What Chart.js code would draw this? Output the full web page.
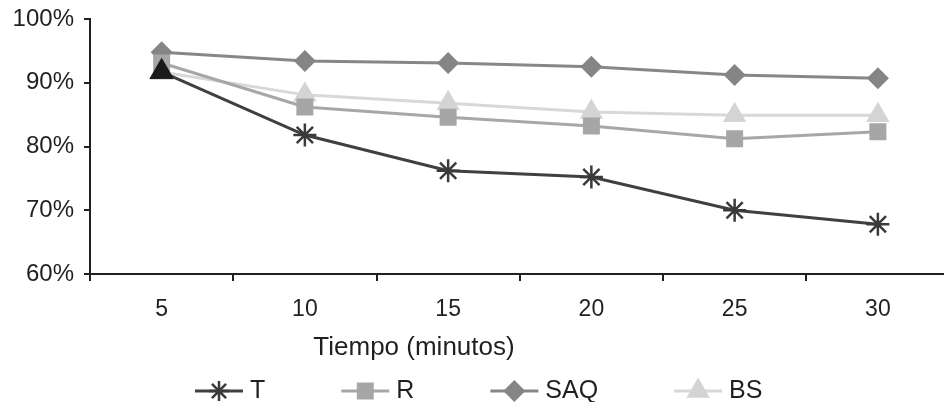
<!DOCTYPE html>
<html>
<head>
    <title>Tiempo</title>
    <script src="https://cdn.jsdelivr.net/npm/chart.js"></script>
    <style>
        html, body { margin: 0; padding: 0; background: #fff; overflow: hidden; }
        canvas { display: block; }
    </style>
</head>
<body>
    <canvas id="chart" width="964" height="402"></canvas>

    <script>
        // Data
        const categories = ['5', '10', '15', '20', '25', '30'];
        const seriesNames = ['T', 'R', 'SAQ', 'BS'];
        const valuesT = [91.7, 81.8, 76.2, 75.2, 70.0, 67.8];
        const valuesR = [93.1, 86.2, 84.6, 83.2, 81.2, 82.3];
        const valuesSAQ = [94.8, 93.4, 93.1, 92.5, 91.2, 90.7];
        const valuesBS = [91.7, 88.1, 86.8, 85.4, 84.9, 84.9];
        const yTicks = [60, 70, 80, 90, 100];
        const xTitle = 'Tiempo (minutos)';

        const ink = '#231f20';
        const font = '"Liberation Sans", Arial, Helvetica, sans-serif';

        // marker looks per series (used by chart and legend)
        const looks = [
            { line: '#404040', mark: '#3a3a3a', style: 'star', r: 11.5, bw: 2.5 },
            { line: '#a7a7a9', mark: '#a6a6a8', style: 'rect', r: 12, bw: 0 },
            { line: '#878787', mark: '#858585', style: 'rectRot', r: 11, bw: 0 },
            { line: '#d8d8d8', mark: '#d4d4d4', style: 'triangle', r: 13.5, bw: 0 }
        ];

        function makeSet(i, data) {
            const l = looks[i];
            return {
                label: seriesNames[i],
                data: data,
                borderColor: l.line,
                borderWidth: 3,
                pointStyle: l.style,
                pointRadius: l.r,
                pointBackgroundColor: l.mark,
                pointBorderColor: l.mark,
                pointBorderWidth: l.bw,
                tension: 0,
                fill: false
            };
        }

        const setT = makeSet(0, valuesT);
        // first T point shows as a black triangle in the picture
        setT.pointStyle = valuesT.map((v, i) => i === 0 ? 'triangle' : 'star');
        setT.pointRadius = valuesT.map((v, i) => i === 0 ? 13.5 : 11.5);
        setT.pointBackgroundColor = valuesT.map((v, i) => i === 0 ? '#1a1a1a' : '#3a3a3a');
        setT.pointBorderColor = valuesT.map((v, i) => i === 0 ? '#1a1a1a' : '#3a3a3a');
        setT.pointBorderWidth = valuesT.map((v, i) => i === 0 ? 1 : 2.5);

        // axis title + legend drawn below the x axis
        const bottomText = {
            id: 'bottomText',
            afterDraw(chart) {
                const ctx = chart.ctx;
                const area = chart.chartArea;
                ctx.save();
                ctx.fillStyle = ink;
                ctx.textBaseline = 'middle';
                ctx.textAlign = 'center';
                ctx.font = '26px ' + font;
                ctx.fillText(xTitle, area.left + 324, area.bottom + 74);

                ctx.font = '25px ' + font;
                ctx.textAlign = 'left';
                const sample = 48, gap = 7, spacing = 76;
                const y = area.bottom + 117;
                let x = area.left + 105;
                chart.data.datasets.forEach((ds, i) => {
                    const l = looks[i];
                    ctx.strokeStyle = l.line;
                    ctx.lineWidth = 3;
                    ctx.beginPath();
                    ctx.moveTo(x, y);
                    ctx.lineTo(x + sample, y);
                    ctx.stroke();
                    ctx.fillStyle = l.mark;
                    ctx.strokeStyle = l.mark;
                    ctx.lineWidth = l.bw;
                    Chart.helpers.drawPoint(ctx, {
                        pointStyle: l.style,
                        radius: l.style === 'star' ? 10 : l.r,
                        borderWidth: l.bw,
                        rotation: 0
                    }, x + sample / 2, y);
                    ctx.fillStyle = ink;
                    ctx.fillText(ds.label, x + sample + gap, y);
                    x += sample + gap + ctx.measureText(ds.label).width + spacing;
                });
                ctx.restore();
            }
        };

        const chart = new Chart(document.getElementById('chart'), {
            type: 'line',
            data: {
                labels: categories,
                datasets: [setT, makeSet(1, valuesR), makeSet(2, valuesSAQ), makeSet(3, valuesBS)]
            },
            options: {
                responsive: false,
                animation: false,
                events: [],
                layout: { padding: { left: 12, top: 19, right: 0, bottom: 78 } },
                plugins: {
                    legend: { display: false },
                    tooltip: { enabled: false }
                },
                scales: {
                    x: {
                        offset: true,
                        afterFit: s => { s.height = 50; s.paddingLeft = 0; s.paddingRight = 0; },
                        grid: { display: true, offset: true, drawOnChartArea: false, tickLength: 7, color: ink, lineWidth: 2 },
                        border: { display: true, color: ink, width: 2 },
                        ticks: { color: ink, font: { family: font, size: 23 }, padding: 15, maxRotation: 0 }
                    },
                    y: {
                        min: 60,
                        max: 100,
                        afterFit: s => { s.width = 78; s.paddingTop = 0; s.paddingBottom = 0; },
                        afterBuildTicks: s => { s.ticks = yTicks.map(v => ({ value: v })); },
                        grid: { display: true, drawOnChartArea: false, tickLength: 6, color: ink, lineWidth: 2 },
                        border: { display: true, color: ink, width: 2 },
                        ticks: { color: ink, font: { family: font, size: 24 }, padding: 10, callback: v => v + '%' }
                    }
                }
            },
            plugins: [bottomText]
        });
    </script>
</body>
</html>
